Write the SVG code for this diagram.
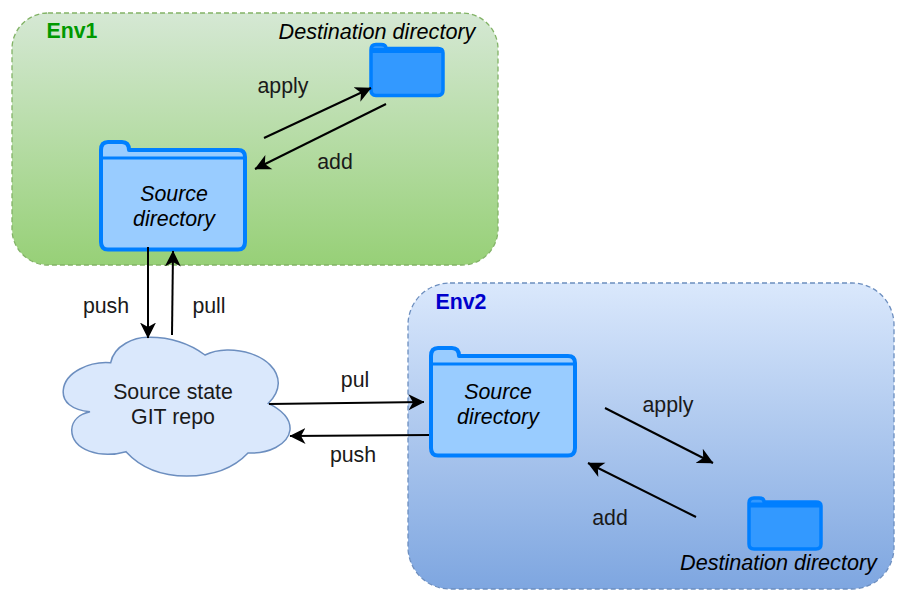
<svg xmlns="http://www.w3.org/2000/svg" width="920" height="603" viewBox="0 0 920 603">
<style>
text{font-family:"Liberation Sans",Arial,sans-serif;font-size:21.33px;fill:#1a1a1a;text-anchor:middle}
.i{font-style:italic;fill:#000}
.d{font-size:21.6px}
.env{font-weight:bold}
.box{stroke-width:1.3;stroke-dasharray:5 3}
.src{fill:#99ccff;stroke:#007fff;stroke-width:4;stroke-linejoin:round}
.dst{fill:#3399ff;stroke:#007fff;stroke-width:3.5;stroke-linejoin:round}
.c{fill:none;stroke:#000;stroke-width:2;marker-end:url(#a)}
</style>
<defs>
<linearGradient id="g1" x1="0" y1="0" x2="0" y2="1"><stop offset="0" stop-color="#d5e8d4"/><stop offset="1" stop-color="#97d077"/></linearGradient>
<linearGradient id="g2" x1="0" y1="0" x2="0" y2="1"><stop offset="0" stop-color="#dae8fc"/><stop offset="1" stop-color="#7ea6e0"/></linearGradient>
<marker id="a" viewBox="0 0 16 18" refX="15.500" refY="9" markerWidth="16" markerHeight="18" markerUnits="userSpaceOnUse" orient="auto"><path d="M0 1L16 9L0 17L4.500 9Z" fill="#000"/></marker>
</defs>
<g id="env1"><rect class="box" x="12" y="13" width="486" height="252" rx="36" fill="url(#g1)" stroke="#82b366"/><text class="env" x="72" y="38" style="fill:#009900">Env1</text></g>
<g id="env2"><rect class="box" x="408" y="283" width="486" height="306" rx="42" fill="url(#g2)" stroke="#6c8ebf"/><text class="env" x="461" y="309" style="fill:#0000cc">Env2</text></g>
<g id="cloud"><path d="M110.7 362.7C114 345 135 337 148.3 337.3C172 337 190 344 205 355C230 342 278 355 278.3 383.3C278 392 274 398 268.3 403.3C282 410 291 418 290 430C288 445 268 454 248 453C232 470 210 476 186.7 476C160 476 140 467 126 451.7C100 459 72 450 71.7 430C72 420 80 414 90 411.7C72 410 62 402 63.3 390C65 372 90 361 110.7 362.7Z" fill="#dae8fc" stroke="#6c8ebf" stroke-width="1.5"/><text x="173" y="399">Source state</text><text x="173" y="424">GIT repo</text></g>
<g id="source1"><path class="src" d="M101 150Q101 142 108 142H122Q129 142 129 150H238Q245 150 245 157V242Q245 249.500 238 249.500H108Q101 249.500 101 242Z"/><path d="M101 158H245" stroke="#007fff" stroke-width="3" fill="none"/><text class="i" x="174" y="201">Source</text><text class="i" x="174" y="226">directory</text></g>
<g id="dest1"><path class="dst" d="M371 50Q371 44.500 376 44.500H381Q386 44.500 386 48.500H438Q443 48.500 443 53V90Q443 95.500 438 95.500H376Q371 95.500 371 90Z"/><path d="M371 50.500H443" stroke="#007fff" stroke-width="5" fill="none"/><text class="i d" x="377" y="39">Destination directory</text></g>
<g id="source2"><path class="src" d="M431 356Q431 348 438 348H452Q459 348 459 356H568Q575 356 575 363V448Q575 455.500 568 455.500H438Q431 455.500 431 448Z"/><path d="M431 364H575" stroke="#007fff" stroke-width="3" fill="none"/><text class="i" x="498" y="399">Source</text><text class="i" x="498" y="424">directory</text></g>
<g id="dest2"><path class="dst" d="M749 503Q749 498 754 498H759Q764 498 764 502H816Q821 502 821 506V544Q821 549 816 549H754Q749 549 749 544Z"/><path d="M749 505H821" stroke="#007fff" stroke-width="5" fill="none"/><text class="i d" x="778.500" y="570">Destination directory</text></g>
<g id="connectors">
<path class="c" d="M264 138L371 88"/>
<path class="c" d="M386 104L255 169"/>
<path class="c" d="M148 247V338"/>
<path class="c" d="M172 335L173 251"/>
<path class="c" d="M269 404L424 402"/>
<path class="c" d="M429 435L290 436"/>
<path class="c" d="M605 408L713 463"/>
<path class="c" d="M696 517L588 463"/>
</g>
<g id="labels">
<text x="283" y="93">apply</text><text x="335" y="169">add</text><text x="106" y="313">push</text><text x="209" y="313">pull</text><text x="355" y="387">pul</text><text x="353" y="462">push</text><text x="668" y="412">apply</text><text x="610" y="525">add</text>
</g>
</svg>
